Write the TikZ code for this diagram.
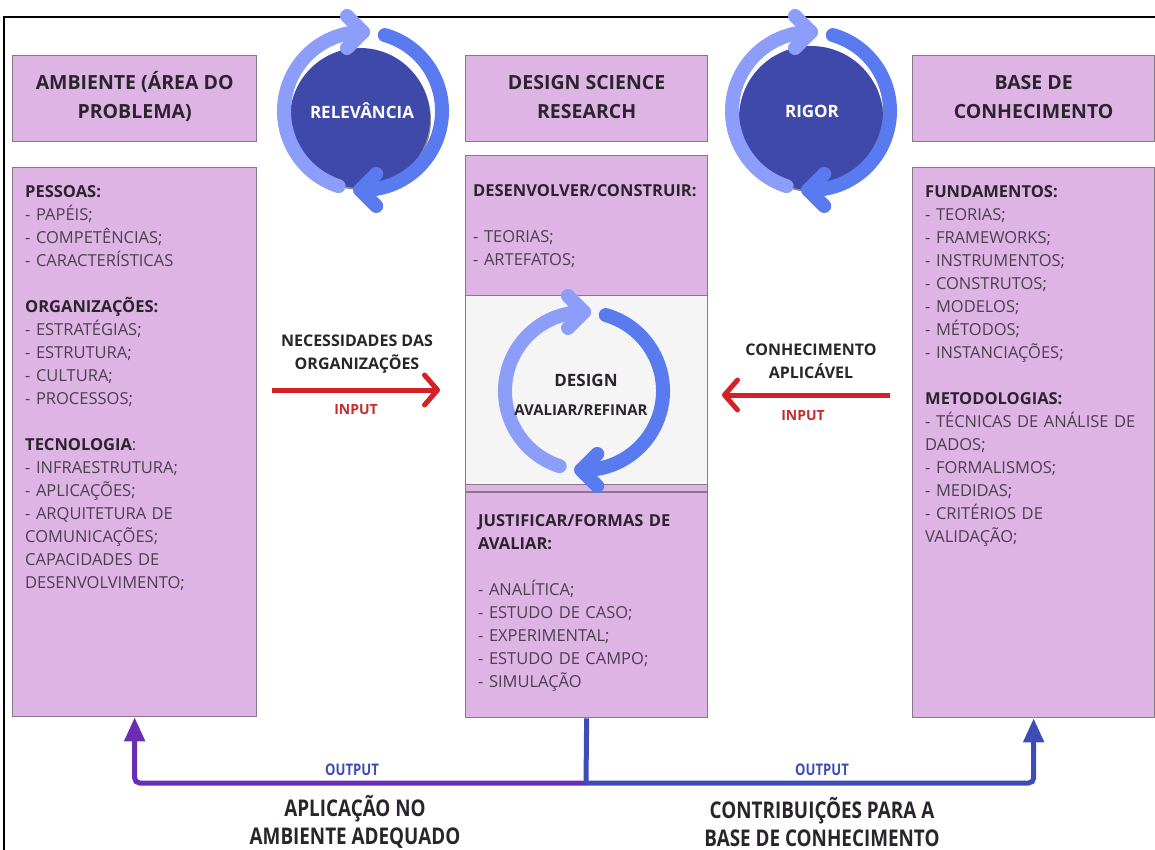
\documentclass[tikz,border=0pt]{standalone}
\usepackage{fontspec}
\setmainfont{Open Sans}
\newfontfamily\condfont[FakeStretch=0.82]{Open Sans}
\usetikzlibrary{arrows.meta,calc}

\definecolor{boxfill}{HTML}{DDB4E4}
\definecolor{boxline}{HTML}{85798A}
\definecolor{grayfill}{HTML}{F5F5F5}
\definecolor{headtxt}{HTML}{2B242D}
\definecolor{bodytxt}{HTML}{4A414D}
\definecolor{cyclight}{HTML}{8C9DFA}
\definecolor{cycdark}{HTML}{5A7BEF}
\definecolor{disk}{HTML}{3F49AA}
\definecolor{inred}{HTML}{D42027}
\definecolor{inlabel}{HTML}{C62B2B}
\definecolor{outpurple}{HTML}{6A2DB3}
\definecolor{outblue}{HTML}{3E4DB5}

\newcommand\blockhead[1]{{\bfseries\color{headtxt}#1}}

% two-arrow cycle icon centred at (#1,#2)
\newcommand\cycleicon[2]{%
  \begin{scope}[shift={(#1,#2)}]
    \draw[cycarc, cyclight] (252:79) arc[start angle=252, end angle=90, radius=79];
    \draw[cycarc, cyclight] ($(90:79)+(-16,16)$) -- (90:79) -- ++(-16,-16);
    \draw[cycarc, cycdark] (74:79) arc[start angle=74, end angle=-92, radius=79];
    \draw[cycarc, cycdark] ($(-92:79)+(16,16)$) -- (-92:79) -- ++(16,-16);
  \end{scope}}

\begin{document}
\begin{tikzpicture}[x=1pt,y=1pt,
  panel/.style={draw=boxline, line width=1.3pt, fill=boxfill, inner sep=0pt, anchor=north west},
  headtext/.style={align=center, text=headtxt, font=\fontsize{19.5}{29}\selectfont\bfseries},
  bodytext/.style={anchor=north west, inner sep=0pt, text width=232pt, align=left,
    text=bodytxt, font=\fontsize{16.5}{23}\selectfont},
  cycarc/.style={line width=14pt, line cap=round, line join=round},
  flowlabel/.style={align=center, text=headtxt, font=\fontsize{16}{23}\selectfont\bfseries},
  inlbl/.style={text=inlabel, font=\fontsize{14}{16}\selectfont\bfseries},
  inarrow/.style={draw=inred, line width=5pt, -{Straight Barb[length=13pt,width=30pt,line width=5pt,round]}},
  outlbl/.style={text=outblue, font=\condfont\fontsize{16}{18}\selectfont\bfseries},
  bottomlbl/.style={align=center, text=headtxt, font=\condfont\fontsize{23}{28}\selectfont\bfseries},
  outline/.style={line width=5pt, rounded corners=5pt},
  disklbl/.style={text=white, font=\fontsize{17}{20}\selectfont\bfseries}
]
\useasboundingbox (0,0) rectangle (1155,-850);

% outer frame
\draw[line width=1.2pt] (4,-850) -- (4,-17) -- (1155,-17);

% header panels
\node[panel, minimum width=244pt, minimum height=86pt] (envh) at (12,-55) {};
\node[headtext] at (envh.center) {\strut AMBIENTE (ÁREA DO\\\strut PROBLEMA)};
\node[panel, minimum width=242pt, minimum height=86pt] (dsrh) at (465,-55) {};
\node[headtext] at (dsrh.center) {\strut DESIGN SCIENCE\\\strut RESEARCH};
\node[panel, minimum width=242pt, minimum height=86pt] (kbh) at (912,-55) {};
\node[headtext] at (kbh.center) {\strut BASE DE\\\strut CONHECIMENTO};

% content panels
\node[panel, minimum width=244pt, minimum height=549pt] (envb) at (12,-167) {};
\node[panel, minimum width=242pt, minimum height=140pt] (dev) at (465,-155) {};
\node[panel, minimum width=242pt, minimum height=189pt, fill=grayfill] (dsgn) at (465,-295) {};
\node[panel, minimum width=242pt, minimum height=233pt] (jus) at (465,-484) {};
\draw[boxline, line width=1.3pt] (jus.north west) ++(0,-8) -- ++(242,0);
\node[panel, minimum width=242pt, minimum height=550pt] (kbb) at (912,-167) {};

% panel texts
\node[bodytext] (envt) at ($(envb.north west)+(13,-14)$) {\strut\blockhead{PESSOAS:}\\
- PAPÉIS;\\
- COMPETÊNCIAS;\\
- CARACTERÍSTICAS\\[23pt]
\blockhead{ORGANIZAÇÕES:}\\
- ESTRATÉGIAS;\\
- ESTRUTURA;\\
- CULTURA;\\
- PROCESSOS;\\[23pt]
\blockhead{TECNOLOGIA}:\\
- INFRAESTRUTURA;\\
- APLICAÇÕES;\\
- ARQUITETURA DE\\
COMUNICAÇÕES;\\
CAPACIDADES DE\\
DESENVOLVIMENTO;};

\node[bodytext] (devt) at ($(dev.north west)+(8,-25)$) {\strut\blockhead{DESENVOLVER/CONSTRUIR:}\\[23pt]
- TEORIAS;\\
- ARTEFATOS;};

\node[bodytext] (just) at ($(jus.north west)+(13,-26)$) {\strut\blockhead{JUSTIFICAR/FORMAS DE}\\
\blockhead{AVALIAR:}\\[23pt]
- ANALÍTICA;\\
- ESTUDO DE CASO;\\
- EXPERIMENTAL;\\
- ESTUDO DE CAMPO;\\
- SIMULAÇÃO};

\node[bodytext] (kbt) at ($(kbb.north west)+(13,-14)$) {\strut\blockhead{FUNDAMENTOS:}\\
- TEORIAS;\\
- FRAMEWORKS;\\
- INSTRUMENTOS;\\
- CONSTRUTOS;\\
- MODELOS;\\
- MÉTODOS;\\
- INSTANCIAÇÕES;\\[23pt]
\blockhead{METODOLOGIAS:}\\
- TÉCNICAS DE ANÁLISE DE\\
DADOS;\\
- FORMALISMOS;\\
- MEDIDAS;\\
- CRITÉRIOS DE\\
VALIDAÇÃO;};

% relevance and rigor cycles
\fill[black!45] (361,-120) circle[radius=70];
\fill[disk] (360,-118) circle[radius=70];
\node[disklbl] (relv) at (362,-111) {RELEVÂNCIA};
\cycleicon{363}{-111}
\fill[black!45] (812,-120) circle[radius=72];
\fill[disk] (811,-118) circle[radius=72];
\node[disklbl] (rigr) at (812,-111) {RIGOR};
\cycleicon{811}{-111}

% design cycle
\cycleicon{584}{-391}
\node[text=headtxt, font=\fontsize{17}{20}\selectfont\bfseries] (dsgnt) at (586,-380) {DESIGN};
\node[text=headtxt, font=\fontsize{15}{18}\selectfont\bfseries] (avrf) at (581,-410) {AVALIAR/REFINAR};

% inputs
\node[flowlabel] (needs) at (357,-354) {NECESSIDADES DAS\\ORGANIZAÇÕES};
\coordinate (needsA) at (272,-390);
\coordinate (needsB) at (440,-390);
\draw[inarrow] (needsA) -- (needsB);
\node[inlbl] (inL) at (356,-410) {INPUT};

\node[flowlabel] (know) at (811,-361) {CONHECIMENTO\\APLICÁVEL};
\coordinate (knowA) at (890,-395);
\coordinate (knowB) at (722,-395);
\draw[inarrow] (knowA) -- (knowB);
\node[inlbl] (inR) at (803,-416) {INPUT};

% outputs
\coordinate (junc) at (586,-783);
\draw[outline, draw=outpurple, -{Triangle[length=24pt,width=20pt]}] (junc) -| (envb.south);
\draw[outline, draw=outblue, -{Triangle[length=24pt,width=20pt]}] (junc) -| (kbb.south);
\draw[outblue, line width=5pt] (jus.south) -- (junc);
\node[outlbl] (outL) at (352,-770) {OUTPUT};
\node[outlbl] (outR) at (822,-770) {OUTPUT};
\node[bottomlbl] (appl) at (355,-822) {APLICAÇÃO NO\\AMBIENTE ADEQUADO};
\node[bottomlbl] (contr) at (822,-822) {CONTRIBUIÇÕES PARA A\\BASE DE CONHECIMENTO};
\end{tikzpicture}
\end{document}
